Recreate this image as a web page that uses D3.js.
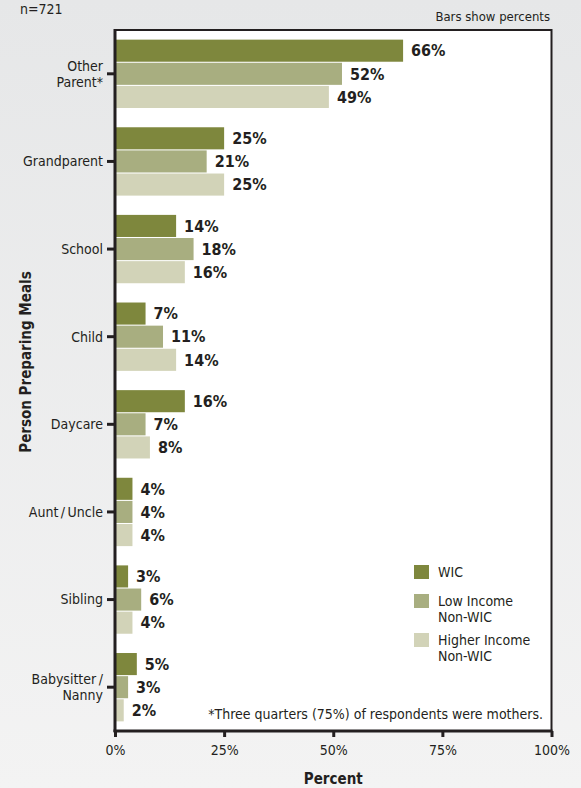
<!DOCTYPE html>
<html><head><meta charset="utf-8">
<script src="https://cdn.jsdelivr.net/npm/d3@7"></script>
<style>
body{margin:0;padding:0;}
svg{display:block;}
text{font-family:"Liberation Sans Narrow","DejaVu Sans Condensed","Open Sans",sans-serif;fill:#231f20;}
</style></head>
<body>
<svg id="chart" width="581" height="788"></svg>
<script>
const categories = ["Other\nParent*","Grandparent","School","Child","Daycare","Aunt\u2009/\u2009Uncle","Sibling","Babysitter\u2009/\nNanny"];
const seriesNames = ["WIC","Low Income\nNon-WIC","Higher Income\nNon-WIC"];
const wic = [66,25,14,7,16,4,3,5];
const lowIncome = [52,21,18,11,7,4,6,3];
const higherIncome = [49,25,16,14,8,4,4,2];
const xTicks = [0,25,50,75,100];
const colors = ["#7e873d","#a8ae80","#d2d3b8"];

const svg = d3.select("#chart");
const defs = svg.append("defs");
const grad = defs.append("linearGradient").attr("id","bg").attr("x1",0).attr("y1",0).attr("x2",0).attr("y2",1);
grad.append("stop").attr("offset","0%").attr("stop-color","#e6e7e8");
grad.append("stop").attr("offset","100%").attr("stop-color","#f3f3f3");
svg.append("rect").attr("width",581).attr("height",788).attr("fill","url(#bg)");

const L=115, R=551.5, T=30, B=731;
const x = d3.scaleLinear().domain([0,100]).range([L,R]);
const y = d3.scaleBand().domain(categories).range([T,B]).paddingInner(0.22).paddingOuter(0.11);
const series = [wic,lowIncome,higherIncome];
const ySub = d3.scaleBand().domain([0,1,2]).range([0,y.bandwidth()]).paddingInner(0.045);

// plot area
svg.append("rect").attr("x",L).attr("y",T).attr("width",R-L).attr("height",B-T)
  .attr("fill","#fff").attr("stroke","#231f20").attr("stroke-width",2);

// n label
svg.append("text").attr("x",20).attr("y",14).attr("font-size",14).text("n=721");
svg.append("text").attr("x",550).attr("y",21).attr("text-anchor","end").attr("font-size",13).text("Bars show percents");

// bars
series.forEach((vals,si)=>{
  const g = svg.append("g");
  g.selectAll("rect").data(vals).join("rect")
    .attr("x",x(0)+1)
    .attr("y",(d,i)=>y(categories[i])+ySub(si))
    .attr("width",d=>x(d)-x(0)-1)
    .attr("height",ySub.bandwidth())
    .attr("fill",colors[si]);
  g.selectAll("text").data(vals).join("text")
    .attr("x",d=>x(d)+8)
    .attr("y",(d,i)=>y(categories[i])+ySub(si)+ySub.bandwidth()/2)
    .attr("dy","0.36em")
    .attr("font-size",16).attr("font-weight","bold")
    .text(d=>d+"%");
});

// left axis line & ticks
svg.append("line").attr("x1",L).attr("x2",L).attr("y1",T-1).attr("y2",B+1).attr("stroke","#231f20").attr("stroke-width",3);
svg.append("line").attr("x1",L-1.5).attr("x2",R+1).attr("y1",B).attr("y2",B).attr("stroke","#231f20").attr("stroke-width",3);

const yAxis = d3.axisLeft(y).tickSize(8).tickFormat("");
const ya = svg.append("g").attr("transform",`translate(${L},0)`).call(yAxis);
ya.select(".domain").remove();
ya.selectAll(".tick line").attr("stroke","#231f20").attr("stroke-width",3);
categories.forEach(c=>{
  const lines = c.split("\n");
  const t = svg.append("text").attr("x",L-12).attr("text-anchor","end").attr("font-size",14)
    .attr("y",y(c)+y.bandwidth()/2 - (lines.length-1)*8).attr("dy","0.35em");
  lines.forEach((ln,i)=>t.append("tspan").attr("x",L-12).attr("dy",i===0?"0.35em":"16").text(ln));
});

const xAxis = d3.axisBottom(x).tickValues(xTicks).tickSize(6).tickFormat(d=>d+"%");
const xa = svg.append("g").attr("transform",`translate(0,${B})`).call(xAxis);
xa.select(".domain").remove();
xa.selectAll(".tick line").attr("stroke","#231f20").attr("stroke-width",3);
xa.selectAll(".tick text").attr("y",14).attr("font-size",14).attr("fill","#231f20")
  .style("font-family",'"Liberation Sans Narrow","DejaVu Sans Condensed",sans-serif');

svg.append("text").attr("x",(L+R)/2).attr("y",784).attr("text-anchor","middle").attr("font-size",15).attr("font-weight","bold").text("Percent");
svg.append("text").attr("transform",`translate(31,362) rotate(-90)`).attr("text-anchor","middle").attr("font-size",15).attr("font-weight","bold").text("Person Preparing Meals");

// legend
const legY = [572,601,640];
seriesNames.forEach((n,i)=>{
  svg.append("rect").attr("x",414).attr("y",legY[i]-7).attr("width",15).attr("height",14).attr("fill",colors[i]);
  const t = svg.append("text").attr("x",438).attr("y",legY[i]).attr("font-size",14);
  n.split("\n").forEach((ln,j)=>t.append("tspan").attr("x",438).attr("dy",j===0?"0.35em":"16").text(ln));
});

svg.append("text").attr("x",543).attr("y",719).attr("text-anchor","end").attr("font-size",14).text("*Three quarters (75%) of respondents were mothers.");
</script>
</body></html>
